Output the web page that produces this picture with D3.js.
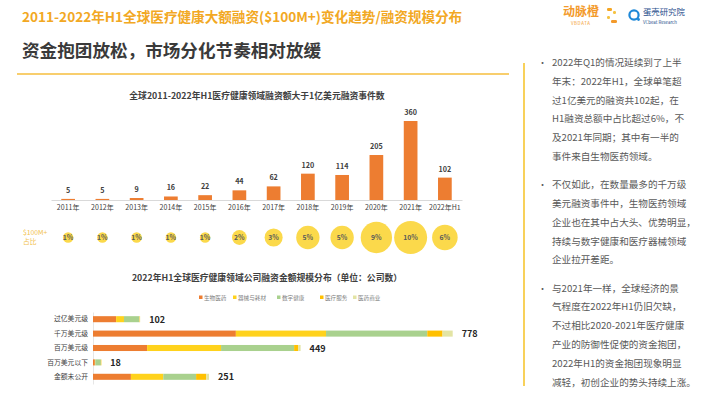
<!DOCTYPE html>
<html>
<head>
<meta charset="utf-8">
<script src="https://cdn.jsdelivr.net/npm/d3@7"></script>
<style>
  body { margin: 0; background: #fff; }
  svg { display: block; font-family: "Noto Sans CJK SC", "Noto Sans", sans-serif; }
</style>
</head>
<body>
<div id="chart"></div>
<script>
// data
var years = ["2011年", "2012年", "2013年", "2014年", "2015年", "2016年", "2017年", "2018年", "2019年", "2020年", "2021年", "2022年H1"];
var dealCounts = [5, 5, 9, 16, 22, 44, 62, 120, 114, 205, 360, 102];
var dealShare = [1, 1, 1, 1, 1, 2, 3, 5, 5, 9, 10, 6];

var sizeLevels = ["过亿美元级", "千万美元级", "百万美元级", "百万美元以下", "金额未公开"];
var sectors = ["生物医药", "器械与耗材", "数字健康", "医疗服务", "医药商业"];
var bioPharma = [50, 309, 117, 4, 82];
var devices = [17, 195, 160, 1, 70];
var digitalHealth = [33, 219, 158, 12, 71];
var medServices = [1, 33, 9, 1, 22];
var pharmaCommerce = [1, 22, 5, 0, 6];
var levelTotals = [102, 778, 449, 18, 251];

var notes = [
  ["2022年Q1的情况延续到了上半", "年末：2022年H1，全球单笔超", "过1亿美元的融资共102起，在", "H1融资总额中占比超过6%，不", "及2021年同期；其中有一半的", "事件来自生物医药领域。"],
  ["不仅如此，在数量最多的千万级", "美元融资事件中，生物医药领域", "企业也在其中占大头、优势明显，", "持续与数字健康和医疗器械领域", "企业拉开差距。"],
  ["与2021年一样，全球经济的景", "气程度在2022年H1仍旧欠缺，", "不过相比2020-2021年医疗健康", "产业的防御性促使的资金抱团，", "2022年H1的资金抱团现象明显", "减轻，初创企业的势头持续上涨。"]
];

var svgWidth = 710;
var svgHeight = 399;

var sectorColors = ["#ED7D31", "#FFD21C", "#A9D18E", "#FFC000", "#E3E4A4"];

var svg = d3.select("#chart")
  .append("svg")
  .attr("width", svgWidth)
  .attr("height", svgHeight);

svg.append("rect").attr("width", svgWidth).attr("height", svgHeight).attr("fill", "#fff");

// header
svg.append("text")
  .attr("x", 22).attr("y", 22)
  .attr("font-size", "13.6px").attr("font-weight", "bold")
  .attr("fill", "#F2A823")
  .text("2011-2022年H1全球医疗健康大额融资($100M+)变化趋势/融资规模分布");

svg.append("text")
  .attr("x", 22).attr("y", 57)
  .attr("font-size", "17.6px").attr("font-weight", "bold")
  .attr("fill", "#3a3a3a")
  .text("资金抱团放松，市场分化节奏相对放缓");

svg.append("line")
  .attr("x1", 17).attr("x2", 509)
  .attr("y1", 74).attr("y2", 74)
  .attr("stroke", "#F6BE3C").attr("stroke-width", 1.3);

// logos
var logo = svg.append("g").attr("transform", "translate(563, 0)");
logo.append("text").attr("x", 0).attr("y", 16)
  .attr("font-size", "12px").attr("font-weight", "bold").attr("fill", "#F39A2B")
  .text("动脉橙");
logo.append("text").attr("x", 8).attr("y", 25)
  .attr("font-size", "4.4px").attr("fill", "#F39A2B").attr("letter-spacing", "0.6px")
  .text("VBDATA");
var petals = [[44, 8, 5, 3, "#F5A623"], [50, 11, 3, 3, "#F5C342"], [44, 16, 3, 3, "#F5C342"], [48, 20, 6, 3, "#F39A2B"]];
petals.forEach(function(p) {
  logo.append("rect").attr("x", p[0]).attr("y", p[1]).attr("width", p[2]).attr("height", p[3])
    .attr("rx", 1.2).attr("fill", p[4]);
});
logo.append("circle").attr("cx", 71).attr("cy", 15).attr("r", 4.6)
  .attr("fill", "none").attr("stroke", "#1E88D8").attr("stroke-width", 2.2);
logo.append("circle").attr("cx", 75.5).attr("cy", 19.5).attr("r", 1.4).attr("fill", "#1E88D8");
logo.append("text").attr("x", 80).attr("y", 15)
  .attr("font-size", "8.4px").attr("fill", "#1F4E8C")
  .text("蛋壳研究院");
logo.append("text").attr("x", 80).attr("y", 23.5)
  .attr("font-size", "4.4px").attr("fill", "#1F4E8C")
  .text("VCbeat Research");

// ---- top chart: deal counts ----
svg.append("text")
  .attr("x", 257).attr("y", 99)
  .attr("text-anchor", "middle")
  .attr("font-size", "8.8px").attr("font-weight", "bold")
  .attr("fill", "#404040")
  .text("全球2011-2022年H1医疗健康领域融资额大于1亿美元融资事件数");

var xBand = d3.scaleBand()
  .domain(years)
  .range([51, 462])
  .paddingInner(0.6)
  .paddingOuter(0.3);

var yCount = d3.scaleLinear()
  .domain([0, 360])
  .range([200, 121]);

var countData = years.map(function(y, i) {
  return { year: y, count: dealCounts[i], share: dealShare[i] };
});

var xAxis = svg.append("g")
  .attr("transform", "translate(0, 200)")
  .call(d3.axisBottom(xBand).tickSize(0).tickPadding(5));
xAxis.select(".domain").attr("stroke", "#D9D9D9");
xAxis.selectAll("text")
  .attr("font-family", "\"Noto Sans CJK SC\", sans-serif")
  .attr("font-size", "7px")
  .attr("fill", "#404040");

svg.append("g")
  .selectAll("rect")
  .data(countData)
  .enter()
  .append("rect")
  .attr("x", d => xBand(d.year))
  .attr("y", d => yCount(d.count))
  .attr("width", xBand.bandwidth())
  .attr("height", d => 200 - yCount(d.count))
  .attr("fill", "#ED7D31");

svg.append("g")
  .selectAll("text")
  .data(countData)
  .enter()
  .append("text")
  .attr("x", d => xBand(d.year) + xBand.bandwidth() / 2)
  .attr("y", d => yCount(d.count) - 6)
  .attr("text-anchor", "middle")
  .attr("font-size", "7.2px").attr("font-weight", "bold")
  .attr("fill", "#404040")
  .text(d => d.count);

// share circles
var rScale = d3.scaleSqrt()
  .domain([0, 10])
  .range([0, 16.5]);

svg.append("text")
  .attr("x", 23).attr("y", 235)
  .attr("font-size", "6.8px").attr("fill", "#F2C14E")
  .text("$100M+");
svg.append("text")
  .attr("x", 23).attr("y", 244)
  .attr("font-size", "6.8px").attr("fill", "#F2C14E")
  .text("占比");

svg.append("g")
  .selectAll("circle")
  .data(countData)
  .enter()
  .append("circle")
  .attr("cx", d => xBand(d.year) + xBand.bandwidth() / 2)
  .attr("cy", 237.5)
  .attr("r", d => rScale(d.share))
  .attr("fill", "#FBD94B");

svg.append("g")
  .selectAll("text")
  .data(countData)
  .enter()
  .append("text")
  .attr("x", d => xBand(d.year) + xBand.bandwidth() / 2)
  .attr("y", 240)
  .attr("text-anchor", "middle")
  .attr("font-size", "6.8px").attr("font-weight", "bold")
  .attr("fill", "#595959")
  .text(d => d.share + "%");

// ---- bottom chart: size distribution ----
svg.append("text")
  .attr("x", 267).attr("y", 281)
  .attr("text-anchor", "middle")
  .attr("font-size", "8.8px").attr("font-weight", "bold")
  .attr("fill", "#404040")
  .text("2022年H1全球医疗健康领域公司融资金额规模分布（单位：公司数）");

// legend
var legend = svg.append("g");
var legendX = [199, 233, 277, 320, 353];
sectors.forEach(function(s, i) {
  legend.append("rect")
    .attr("x", legendX[i]).attr("y", 295.5)
    .attr("width", 3.5).attr("height", 3.5)
    .attr("fill", sectorColors[i]);
  legend.append("text")
    .attr("x", legendX[i] + 5).attr("y", 299.5)
    .attr("font-size", "5.6px").attr("fill", "#7f7f7f")
    .text(s);
});

var stackRows = sizeLevels.map(function(level, i) {
  return {
    level: level,
    "生物医药": bioPharma[i],
    "器械与耗材": devices[i],
    "数字健康": digitalHealth[i],
    "医疗服务": medServices[i],
    "医药商业": pharmaCommerce[i],
    total: levelTotals[i]
  };
});

var series = d3.stack().keys(sectors)(stackRows);

var xSize = d3.scaleLinear()
  .domain([0, 778])
  .range([93, 452.7]);

var yLevel = d3.scaleBand()
  .domain(sizeLevels)
  .range([312, 384])
  .paddingInner(0.58)
  .paddingOuter(0.29);

var yAxis = svg.append("g")
  .attr("transform", "translate(93, 0)")
  .call(d3.axisLeft(yLevel).tickSize(0).tickPadding(5));
yAxis.select(".domain").attr("stroke", "#E6E6E6");
yAxis.selectAll("text")
  .attr("font-family", "\"Noto Sans CJK SC\", sans-serif")
  .attr("font-size", "6.8px")
  .attr("fill", "#404040");

svg.append("g")
  .selectAll("g")
  .data(series)
  .enter()
  .append("g")
  .attr("fill", (d, i) => sectorColors[i])
  .selectAll("rect")
  .data(d => d)
  .enter()
  .append("rect")
  .attr("x", d => xSize(d[0]))
  .attr("y", d => yLevel(d.data.level))
  .attr("width", d => xSize(d[1]) - xSize(d[0]))
  .attr("height", yLevel.bandwidth());

svg.append("g")
  .selectAll("text")
  .data(stackRows)
  .enter()
  .append("text")
  .attr("x", d => xSize(d.total) + 9)
  .attr("y", d => yLevel(d.level) + yLevel.bandwidth() / 2 + 3.5)
  .attr("font-size", "9px").attr("font-weight", "bold")
  .attr("fill", "#262626")
  .text(d => d.total);

// ---- right notes panel ----
svg.append("line")
  .attr("x1", 524).attr("x2", 524)
  .attr("y1", 63).attr("y2", 386)
  .attr("stroke", "#F7C631").attr("stroke-width", 1.6);

var lineY = 66;
var lineStep = 18.8;
notes.forEach(function(para, p) {
  svg.append("text")
    .attr("x", 538).attr("y", lineY)
    .attr("font-size", "9px").attr("fill", "#595959")
    .text("•");
  para.forEach(function(line) {
    svg.append("text")
      .attr("x", 552).attr("y", lineY)
      .attr("font-size", "9.6px").attr("fill", "#595959")
      .text(line);
    lineY += lineStep;
  });
  lineY += 9.4;
});
</script>
</body>
</html>
